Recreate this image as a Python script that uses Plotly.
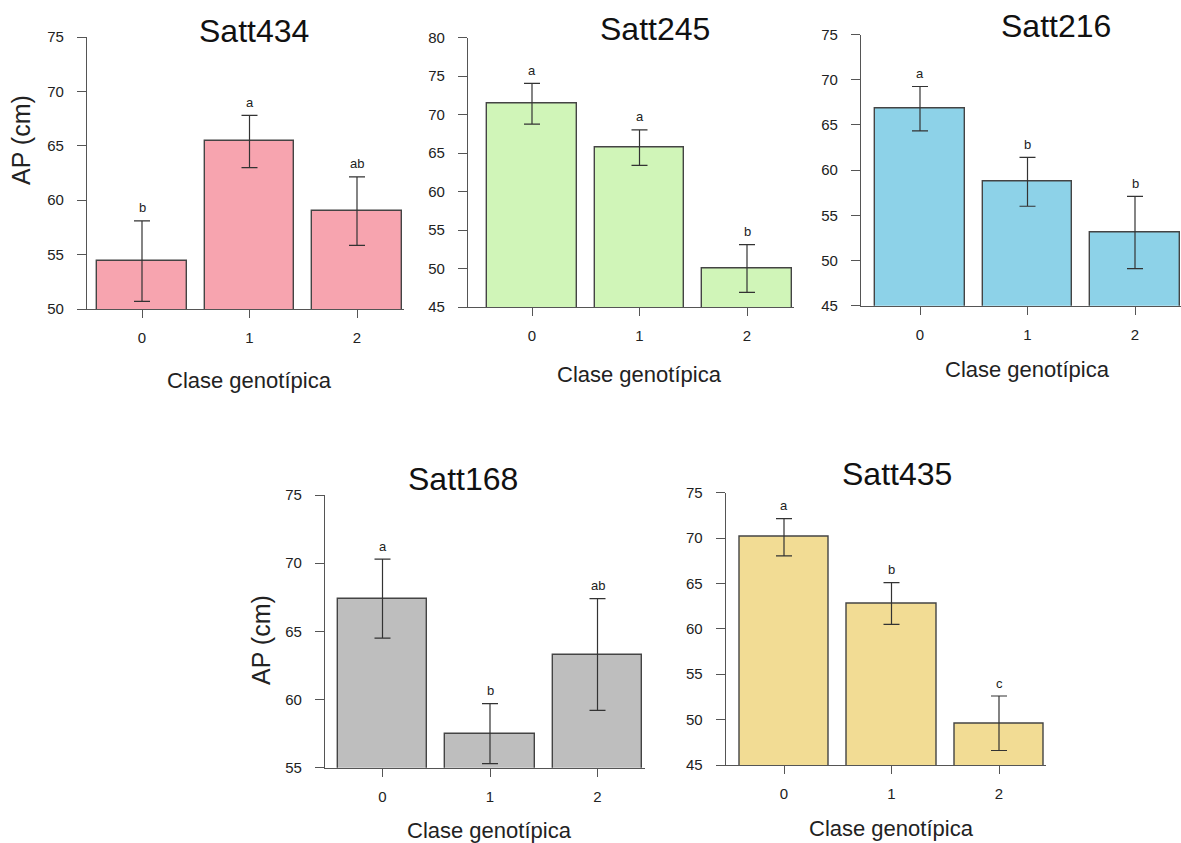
import plotly.graph_objects as go

# ---------------- data ----------------
categories = ["0", "1", "2"]
markers = ["Satt434", "Satt245", "Satt216", "Satt168", "Satt435"]

satt434_means = [54.4, 65.4, 59.0]
satt434_err = [3.7, 2.4, 3.15]
satt434_letters = ["b", "a", "ab"]

satt245_means = [71.4, 65.7, 50.0]
satt245_err = [2.65, 2.3, 3.1]
satt245_letters = ["a", "a", "b"]

satt216_means = [66.8, 58.7, 53.1]
satt216_err = [2.45, 2.7, 4.0]
satt216_letters = ["a", "b", "b"]

satt168_means = [67.4, 57.5, 63.3]
satt168_err = [2.9, 2.2, 4.1]
satt168_letters = ["a", "b", "ab"]

satt435_means = [70.1, 62.8, 49.6]
satt435_err = [2.05, 2.3, 3.0]
satt435_letters = ["a", "b", "c"]

y_ranges = [[50, 75], [45, 80], [45, 75], [55, 75], [45, 75]]
colors = ["#F7A4AF", "#D0F5B8", "#8DD2E8", "#BEBEBE", "#F2DC94"]

x_title = "Clase genotípica"
y_title = "AP (cm)"

# ---------------- layout (page pixels) ----------------
W, H = 1181, 843
SP = 107.5  # px per category


def fx(px):
    return px / W


def fy(py):
    return 1 - py / H


panels = [
    dict(ax=87, t0=142, yt=37, yb=309, title=(254, 31), xt_y=380, yt_pos=(21, 140)),
    dict(ax=468, t0=532, yt=37.5, yb=307, title=(655, 29), xt_y=374, yt_pos=None),
    dict(ax=861, t0=920, yt=34.5, yb=305.7, title=(1056, 26), xt_y=369, yt_pos=None),
    dict(ax=325, t0=382.5, yt=495, yb=767.7, title=(462.5, 479), xt_y=830, yt_pos=(261, 640)),
    dict(ax=725.7, t0=784, yt=492.7, yb=765, title=(896.7, 474), xt_y=828, yt_pos=None),
]

means = [satt434_means, satt245_means, satt216_means, satt168_means, satt435_means]
errs = [satt434_err, satt245_err, satt216_err, satt168_err, satt435_err]
letters = [satt434_letters, satt245_letters, satt216_letters, satt168_letters, satt435_letters]

FONT = "Liberation Sans, Arial, sans-serif"
AXC = "#555555"
TXT = "#222222"

fig = go.Figure()
annotations = []
layout_axes = {}
xs = [0, 1, 2]

for i, p in enumerate(panels):
    n = i + 1
    xa = "x" if n == 1 else f"x{n}"
    ya = "y" if n == 1 else f"y{n}"
    right_px = min(p["t0"] + 2.44 * SP, W)
    x0 = (p["ax"] - p["t0"]) / SP
    x1 = (right_px - p["t0"]) / SP
    fig.add_trace(go.Bar(
        x=xs, y=means[i], width=0.833,
        marker=dict(color=colors[i], line=dict(color="#444444", width=1.4)),
        error_y=dict(type="data", array=errs[i], visible=True,
                     color="#333333", thickness=1.2, width=8),
        xaxis=xa, yaxis=ya, showlegend=False, hoverinfo="skip",
    ))
    for j in range(3):
        annotations.append(dict(
            x=xs[j], y=means[i][j] + errs[i][j], xref=xa, yref=ya,
            text=letters[i][j], showarrow=False, yanchor="middle", yshift=13,
            font=dict(family=FONT, size=13, color=TXT)))
    xkey = "xaxis" if n == 1 else f"xaxis{n}"
    ykey = "yaxis" if n == 1 else f"yaxis{n}"
    layout_axes[xkey] = dict(
        domain=[fx(p["ax"]), min(fx(right_px), 1.0)], range=[x0, x1], anchor=ya,
        tickvals=xs, ticktext=categories, showgrid=False, zeroline=False,
        showline=True, linecolor=AXC, linewidth=1.2,
        ticks="outside", ticklen=8, tickcolor=AXC, tickwidth=1.2,
        ticklabelstandoff=7, automargin=False,
        tickfont=dict(family=FONT, size=15, color=TXT), fixedrange=True)
    layout_axes[ykey] = dict(
        domain=[fy(p["yb"]), fy(p["yt"])], range=y_ranges[i], anchor=xa,
        dtick=5, tick0=0, showgrid=False, zeroline=False,
        showline=True, linecolor=AXC, linewidth=1.2,
        ticks="outside", ticklen=9, tickcolor=AXC, tickwidth=1.2,
        ticklabelstandoff=10, automargin=False,
        tickfont=dict(family=FONT, size=15, color=TXT), fixedrange=True)
    annotations.append(dict(
        x=fx(p["title"][0]), y=fy(p["title"][1]), xref="paper", yref="paper",
        text=markers[i], showarrow=False, xanchor="center", yanchor="middle",
        font=dict(family=FONT, size=32, color="#111111")))
    annotations.append(dict(
        x=fx(p["t0"] + SP), y=fy(p["xt_y"]), xref="paper", yref="paper",
        text=x_title, showarrow=False, xanchor="center", yanchor="middle",
        font=dict(family=FONT, size=22, color=TXT)))
    if p["yt_pos"] is not None:
        annotations.append(dict(
            x=fx(p["yt_pos"][0]), y=fy(p["yt_pos"][1]), xref="paper", yref="paper",
            text=y_title, showarrow=False, xanchor="center", yanchor="middle",
            textangle=-90, font=dict(family=FONT, size=25, color=TXT)))

fig.update_layout(
    width=W, height=H,
    margin=dict(l=0, r=0, t=0, b=0, pad=0, autoexpand=False),
    paper_bgcolor="white", plot_bgcolor="white", showlegend=False,
    annotations=annotations, bargap=0, **layout_axes)

fig.write_html(
    "out.html",
    config={"displayModeBar": False},
    post_script=(
        "document.documentElement.style.margin='0';"
        "document.documentElement.style.overflow='hidden';"
        "document.body.style.margin='0';"
        "document.body.style.overflow='hidden';"
    ),
)
